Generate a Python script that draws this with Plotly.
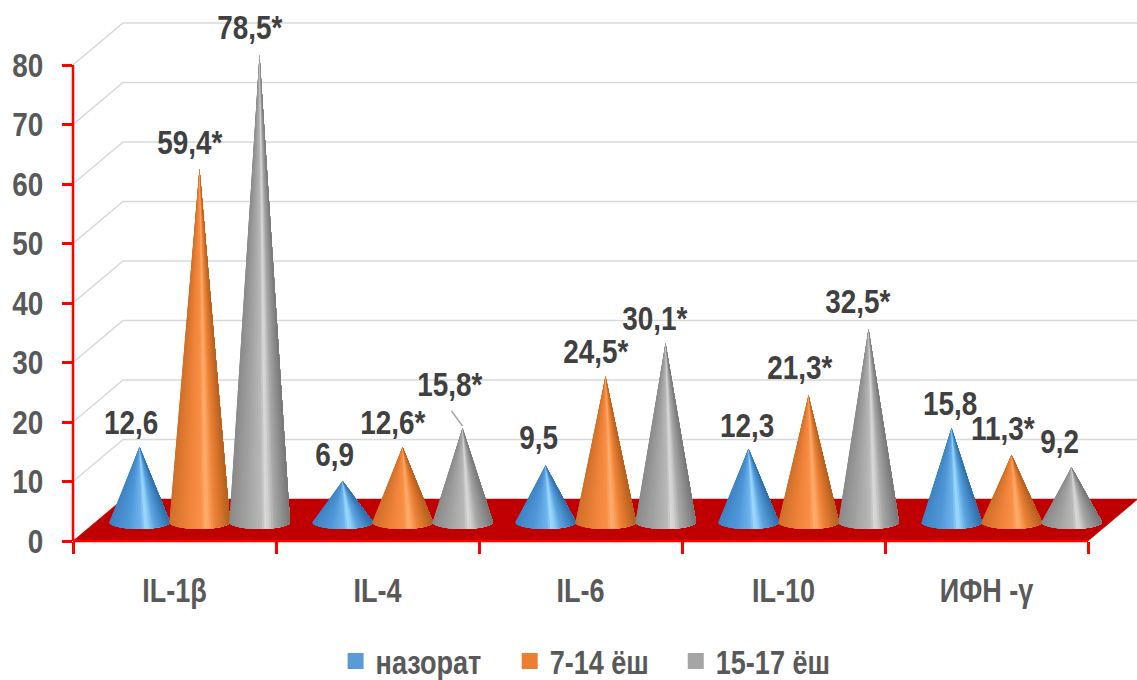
import numpy as np
import plotly.graph_objects as go

# Cytokine levels per age group
categories = ["IL-1β", "IL-4", "IL-6", "IL-10", "ИФН -γ"]
series_names = ["назорат", "7-14 ёш", "15-17 ёш"]
control = [12.6, 6.9, 9.5, 12.3, 15.8]
age_7_14 = [59.4, 12.6, 24.5, 21.3, 11.3]
age_15_17 = [78.5, 15.8, 30.1, 32.5, 9.2]
labels_control = ["12,6", "6,9", "9,5", "12,3", "15,8"]
labels_7_14 = ["59,4*", "12,6*", "24,5*", "21,3*", "11,3*"]
labels_15_17 = ["78,5*", "15,8*", "30,1*", "32,5*", "9,2"]
y_ticks = [0, 10, 20, 30, 40, 50, 60, 70, 80]

# Scale of the pseudo-3D scene, in pixels
PX_X = 203.0
PX_Y = 5.95
DEPTH_X, DEPTH_Y = 50 / PX_X, 42 / PX_Y
BASE_LIFT = 19 / PX_Y
CONE_R, CONE_B = 30.5 / PX_X, 7 / PX_Y
CONE_STEP = 60 / PX_X
X_MAX = 1064 / PX_X
Y_MAX = 541 / PX_Y
N_GROUPS = len(categories)

FONT = "Liberation Sans"
TEXT_DARK = "#404040"
TEXT_GREY = "#595959"
RED = "#ff0000"

# Shading across each cone, from its left edge to its right edge
shades = [
    [(-1, "#3f83c4"), (-0.4, "#4f97d8"), (0.05, "#6db3ec"), (0.22, "#a2dcff"), (0.5, "#5ba4e0"), (1, "#2f6fab")],
    [(-1, "#cf6f2a"), (-0.4, "#ee8238"), (0.05, "#f98f47"), (0.22, "#ffb071"), (0.5, "#ee8236"), (1, "#b5601f")],
    [(-1, "#8a8a8a"), (-0.4, "#a3a3a3"), (0.05, "#b8b8b8"), (0.22, "#dcdcdc"), (0.5, "#a6a6a6"), (1, "#777777")],
]
legend_colors = ["#5b9bd5", "#ed7d31", "#a5a5a5"]


def shade(stops, u):
    pos = [s[0] for s in stops]
    rgb = np.array([[int(s[1][i:i + 2], 16) for i in (1, 3, 5)] for s in stops], float)
    return "rgb({:.0f},{:.0f},{:.0f})".format(*[np.interp(u, pos, rgb[:, c]) for c in range(3)])


fig = go.Figure()


def outline(xs, ys, color, width):
    fig.add_trace(go.Scatter(x=xs, y=ys, mode="lines", showlegend=False, hoverinfo="skip",
                             line=dict(color=color, width=width), cliponaxis=False))


# Wall gridlines bending back from the value axis
for v in y_ticks[1:]:
    outline([0, DEPTH_X, X_MAX], [v, v + DEPTH_Y, v + DEPTH_Y], "#d9d9d9", 1.6)

# Floor
fig.add_trace(go.Scatter(
    x=[0, N_GROUPS, N_GROUPS + DEPTH_X, DEPTH_X, 0], y=[0, 0, DEPTH_Y, DEPTH_Y, 0],
    mode="lines", fill="toself", fillcolor="#c00000", line=dict(color="#c00000", width=0.5),
    showlegend=False, hoverinfo="skip"))

# Cones: overlapping fans painted left to right, so each band only blends with its neighbour
N_BANDS = 40
thetas = np.linspace(np.pi, 2 * np.pi, N_BANDS + 1)
all_series = [control, age_7_14, age_15_17]
for s, values in enumerate(all_series):
    offset = (25 / PX_X) + (s - 1) * CONE_STEP
    for b in range(N_BANDS):
        arc = thetas[b:]
        xs, ys = [], []
        for g, v in enumerate(values):
            cx = g + 0.5 + offset
            xs += [cx] + list(cx + CONE_R * np.cos(arc)) + [cx, None]
            ys += [v + BASE_LIFT] + list(BASE_LIFT + CONE_B * np.sin(arc)) + [v + BASE_LIFT, None]
        u = float(np.cos((thetas[b] + thetas[b + 1]) / 2))
        color = shade(shades[s], u)
        fig.add_trace(go.Scatter(x=xs, y=ys, mode="lines", fill="toself", fillcolor=color,
                                 line=dict(width=0), showlegend=False, hoverinfo="skip"))

# Value labels, placed relative to each cone tip
label_shift_x = [[-9, -8, -7, -2, -2], [-10, -10, -10, -9, -9], [-10, -13, -11, -11, -12]]
label_shift_y = [[25, 27, 28, 24, 25], [27, 25, 25, 28, 27], [28, 44, 25, 28, 26]]
all_labels = [labels_control, labels_7_14, labels_15_17]
annotations = []
for s, values in enumerate(all_series):
    offset = (25 / PX_X) + (s - 1) * CONE_STEP
    for g, v in enumerate(values):
        annotations.append(dict(
            x=g + 0.5 + offset, y=v + BASE_LIFT, xref="x", yref="y", text=all_labels[s][g],
            showarrow=False, xanchor="center", yanchor="middle",
            xshift=label_shift_x[s][g], yshift=label_shift_y[s][g],
            font=dict(family=FONT, size=34, color=TEXT_DARK, weight=700)))

# Leader line from the displaced IL-4 label to its cone
tip_x, tip_y = 1 + 0.5 + 25 / PX_X + CONE_STEP, age_15_17[1] + BASE_LIFT
outline([tip_x - 11 / PX_X, tip_x], [tip_y + 17 / PX_Y, tip_y + 2 / PX_Y], "#a6a6a6", 1.5)

# Legend entries
for name, color in zip(series_names, legend_colors):
    fig.add_trace(go.Scatter(x=[None], y=[None], mode="markers", name=name,
                             marker=dict(symbol="square", size=18, color=color)))

# Red axis lines sit on the plot edges and stop at the last tick
axis_lines = [
    dict(type="line", xref="paper", yref="y", x0=0, x1=0, y0=y_ticks[0], y1=y_ticks[-1],
         line=dict(color=RED, width=2.5), layer="above"),
    dict(type="line", xref="x", yref="paper", x0=0, x1=N_GROUPS, y0=0, y1=0,
         line=dict(color=RED, width=2.5), layer="above"),
]

fig.update_layout(
    width=1137, height=680, autosize=False,
    margin=dict(l=73, r=0, t=0, b=139, pad=0, autoexpand=False),
    paper_bgcolor="white", plot_bgcolor="white",
    annotations=annotations,
    shapes=axis_lines,
    xaxis=dict(
        range=[0, X_MAX], showgrid=False, zeroline=False, showline=False, automargin=False, tickangle=0,
        tickmode="array", tickvals=[g + 0.5 for g in range(N_GROUPS)], ticktext=categories,
        ticks="outside", ticklen=20, tickcolor="rgba(0,0,0,0)",
        tickfont=dict(family=FONT, size=33, color=TEXT_GREY, weight=700),
        minor=dict(tickmode="array", tickvals=list(range(N_GROUPS + 1)), ticks="outside",
                   ticklen=12, tickwidth=2.5, tickcolor=RED, showgrid=False),
    ),
    yaxis=dict(
        range=[0, Y_MAX], showgrid=False, zeroline=False, showline=False, automargin=False,
        tickmode="array", tickvals=y_ticks, ticks="outside", ticklen=10, tickwidth=2.5, tickcolor=RED,
        ticklabelstandoff=12,
        tickfont=dict(family=FONT, size=34, color=TEXT_GREY, weight=700),
    ),
    showlegend=True,
    legend=dict(orientation="h", xref="paper", yref="paper", x=0.4935, xanchor="center",
                y=-120 / 541, yanchor="middle", font=dict(family=FONT, size=33, color=TEXT_GREY, weight=700),
                bgcolor="rgba(0,0,0,0)", itemclick=False, itemdoubleclick=False),
)

# Condense all chart text horizontally around each label's anchor point
condense_text = """
var gd = document.querySelector('.plotly-graph-div');
gd.querySelectorAll('svg text').forEach(function (t) {
  var x = parseFloat(t.getAttribute('x')) || 0;
  var prior = t.getAttribute('transform') || '';
  t.setAttribute('transform', prior + ' translate(' + x + ',0) scale(0.82,1) translate(' + (-x) + ',0)');
});
"""

fig.write_html("out.html", config=dict(displayModeBar=False), post_script=condense_text)
